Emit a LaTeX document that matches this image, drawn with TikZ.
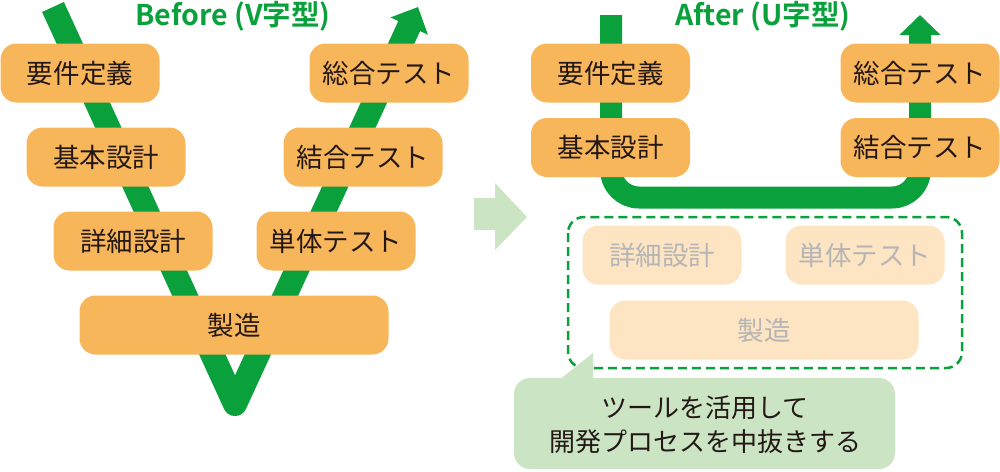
\documentclass[tikz,border=0pt]{standalone}
\usepackage{fontspec}
\setmainfont{Noto Sans CJK JP}[BoldFont={Noto Sans CJK JP Bold}]
\usetikzlibrary{arrows.meta}

\definecolor{vgreen}{HTML}{0AA03C}
\definecolor{boxorange}{HTML}{F8B65B}
\definecolor{fadeorange}{HTML}{FDE4C2}
\definecolor{notegreen}{HTML}{CBE5C4}
\definecolor{inkdark}{HTML}{231815}
\definecolor{fadegray}{HTML}{B5B5B5}

\tikzset{
  phase/.style={rectangle, rounded corners=16pt, fill=boxorange, text=inkdark,
    minimum width=159pt, minimum height=59pt, inner sep=0pt,
    font=\fontsize{26.5}{30}\selectfont},
  fadephase/.style={phase, fill=fadeorange, text=fadegray},
  flowline/.style={draw=vgreen, line width=24pt, line join=round},
  paneltitle/.style={text=vgreen, inner sep=0pt, font=\bfseries\fontsize{28.5}{30}\selectfont},
  notetext/.style={text=inkdark, align=center, inner sep=0pt, font=\fontsize{26}{34}\selectfont},
}

\begin{document}
\begin{tikzpicture}[x=1pt,y=-1pt]
	\useasboundingbox (0,0) rectangle (1000,471);

	% Before: V flow
	\coordinate (vtop) at (53,7);
	\coordinate (vbottom) at (235,404);
	\coordinate (vtip) at (418,7);
	\draw[flowline, -{Triangle[length=21pt,width=40pt]}] (vtop) -- (vbottom) -- (vtip);

	\node[paneltitle] (beforetitle) at (233,16) {Before (V字型)};

	\node[phase] (req) at (80,73) {要件定義};
	\node[phase] (basic) at (106,157) {基本設計};
	\node[phase] (detail) at (133,241) {詳細設計};
	\node[phase, minimum width=309pt] (impl) at (234,325) {製造};
	\node[phase] (unit) at (336,241) {単体テスト};
	\node[phase] (integ) at (363,157) {結合テスト};
	\node[phase] (system) at (389,73) {総合テスト};

	% arrow between panels
	\fill[notegreen] (474,198) -- (495,198) -- (495,183) -- (527,217) -- (495,250) -- (495,230) -- (474,230) -- cycle;

	% After: U flow
	\coordinate (utop) at (611,15);
	\coordinate (utip) at (920,15);
	\draw[flowline, line width=22pt, rounded corners=28pt, -{Triangle[length=20pt,width=40pt]}]
		(utop) -- (611,197.5) -- (920,197.5) -- (utip);

	\node[paneltitle] (aftertitle) at (763,16) {After (U字型)};

	\node[phase] (req2) at (610.5,73) {要件定義};
	\node[phase] (basic2) at (610.5,147.5) {基本設計};
	\node[phase] (system2) at (920,73) {総合テスト};
	\node[phase] (integ2) at (920,147.5) {結合テスト};

	% skipped steps
	\draw[vgreen, line width=2.5pt, dash pattern=on 9pt off 5pt, rounded corners=16pt]
		(568,217) rectangle (962,368);
	\node[fadephase] (detail2) at (662,255) {詳細設計};
	\node[fadephase] (unit2) at (865,255) {単体テスト};
	\node[fadephase, minimum width=309pt] (impl2) at (764,330) {製造};

	% callout
	\fill[notegreen, rounded corners=16pt] (514,378) rectangle (895,469);
	\fill[notegreen] (559,380) -- (593,353) -- (593,380) -- cycle;
	\node[notetext] (toolnote) at (705,425) {ツールを活用して\\開発プロセスを中抜きする};
\end{tikzpicture}
\end{document}
